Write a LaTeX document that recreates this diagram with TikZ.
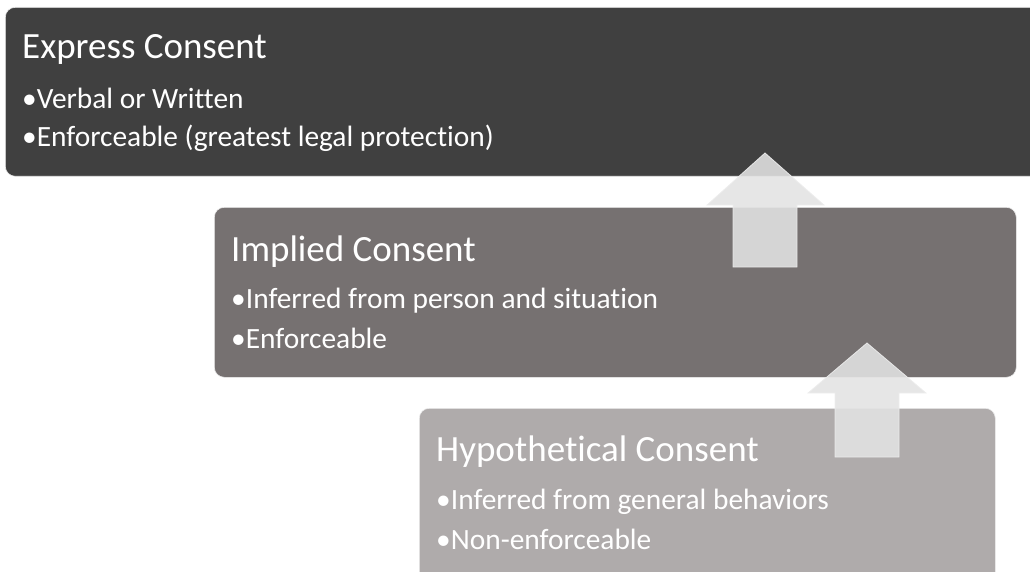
\documentclass[tikz,border=0pt]{standalone}
\usepackage{fontspec}
\setmainfont{Carlito}[Ligatures={NoCommon}]
\definecolor{exprC}{HTML}{404040}
\definecolor{implC}{HTML}{767171}
\definecolor{hypoC}{HTML}{AFABAB}
\definecolor{arrC}{HTML}{E3E3E3}
\definecolor{arrB}{HTML}{EDEDED}
\begin{document}
\begin{tikzpicture}[x=1pt,y=-1pt,
  box/.style={rounded corners=10pt, draw=white!85!gray, line width=0.6pt, inner sep=0pt, anchor=north west},
  ttl/.style={anchor=base west, inner sep=0pt, text=white, font=\fontsize{37}{42}\selectfont},
  bul/.style={anchor=base west, inner sep=0pt, text=white, font=\fontsize{29.4}{34}\selectfont},
  uparrow/.style={fill=arrC, fill opacity=0.88, draw=arrB, draw opacity=0.9, line width=0.8pt}]
\useasboundingbox (0,0) rectangle (1030,572);
\clip (0,0) rectangle (1030,572);
\node[box, fill=exprC, minimum width=1045pt, minimum height=169pt] (express) at (5,7) {};
\node[box, fill=implC, minimum width=802pt, minimum height=170pt] (implied) at (214,207) {};
\node[box, fill=hypoC, minimum width=576pt, minimum height=185pt] (hypo) at (419,408) {};
\node[ttl] (t1) at (22,59) {Express Consent};
\node[bul] (b11) at (22,109) {•Verbal or Written};
\node[bul] (b12) at (22,147) {•Enforceable (greatest legal protection)};
\node[ttl] (t2) at (231,261) {Implied Consent};
\node[bul] (b21) at (231,308) {•Inferred from person and situation};
\node[bul] (b22) at (231,348) {•Enforceable};
\node[ttl] (t3) at (436,461) {Hypothetical Consent};
\node[bul] (b31) at (436,509) {•Inferred from general behaviors};
\node[bul] (b32) at (436,549) {•Non-enforceable};
\draw[uparrow] (765,153) -- (824,205) -- (797,205) -- (797,267) -- (733,267) -- (733,205) -- (707,205) -- cycle;
\draw[uparrow] (867,343) -- (926,393) -- (899,393) -- (899,457) -- (835,457) -- (835,393) -- (808,393) -- cycle;
\end{tikzpicture}
\end{document}
